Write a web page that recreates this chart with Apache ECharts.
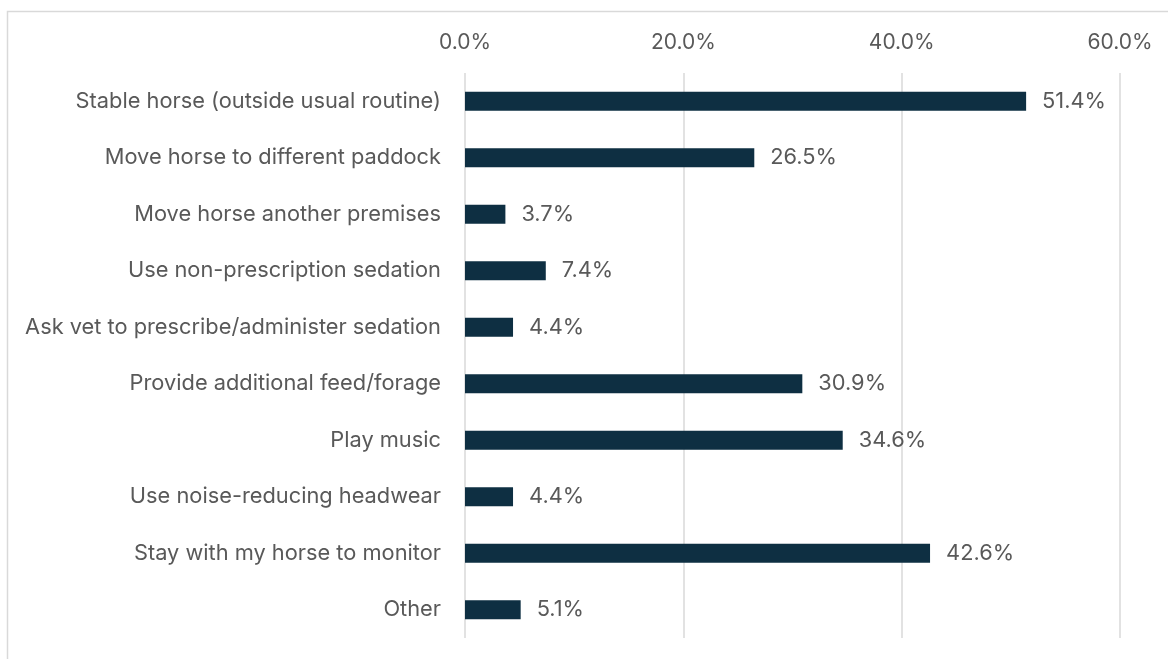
<!DOCTYPE html>
<html>
<head>
<meta charset="utf-8">
<script src="https://cdn.jsdelivr.net/npm/echarts@6/dist/echarts.min.js"></script>
<style>
  html, body { margin: 0; padding: 0; background: #ffffff; }
  #chart { width: 1168px; height: 659px; }
</style>
</head>
<body>
<div id="chart"></div>
<script>
// Responses: actions taken by horse owners
const categories = [
  'Stable horse (outside usual routine)',
  'Move horse to different paddock',
  'Move horse another premises',
  'Use non-prescription sedation',
  'Ask vet to prescribe/administer sedation',
  'Provide additional feed/forage',
  'Play music',
  'Use noise-reducing headwear',
  'Stay with my horse to monitor',
  'Other'
];
const percentages = [51.4, 26.5, 3.7, 7.4, 4.4, 30.9, 34.6, 4.4, 42.6, 5.1];
const axisTicks = [0, 20, 40, 60];

const textColor = '#595959';
const fontFamily = 'Inter, "Noto Sans", sans-serif';

const chart = echarts.init(document.getElementById('chart'), null, { renderer: 'canvas' });
chart.setOption({
  animation: false,
  backgroundColor: '#ffffff',
  graphic: [{
    type: 'rect',
    shape: { x: 7.5, y: 11.5, width: 1200, height: 700 },
    style: { fill: 'none', stroke: '#d9d9d9', lineWidth: 1.5 },
    silent: true
  }],
  grid: { left: 465, right: 48, top: 73, bottom: 21, containLabel: false },
  xAxis: {
    type: 'value',
    position: 'top',
    min: axisTicks[0],
    max: axisTicks[axisTicks.length - 1],
    interval: axisTicks[1] - axisTicks[0],
    axisLine: { show: false },
    axisTick: { show: false },
    splitLine: { show: true, lineStyle: { color: '#d9d9d9', width: 1.5 } },
    axisLabel: {
      color: textColor, fontFamily, fontSize: 21, margin: 20,
      formatter: v => v.toFixed(1) + '%'
    }
  },
  yAxis: {
    type: 'category',
    inverse: true,
    data: categories,
    axisLine: { show: false },
    axisTick: { show: false },
    axisLabel: { color: textColor, fontFamily, fontSize: 21.8, margin: 24 }
  },
  series: [{
    type: 'bar',
    data: percentages,
    barWidth: 19,
    itemStyle: { color: '#0e2f42' },
    label: {
      show: true, position: 'right', distance: 16,
      color: textColor, fontFamily, fontSize: 21.8,
      formatter: p => p.value.toFixed(1) + '%'
    }
  }]
});
</script>
</body>
</html>
